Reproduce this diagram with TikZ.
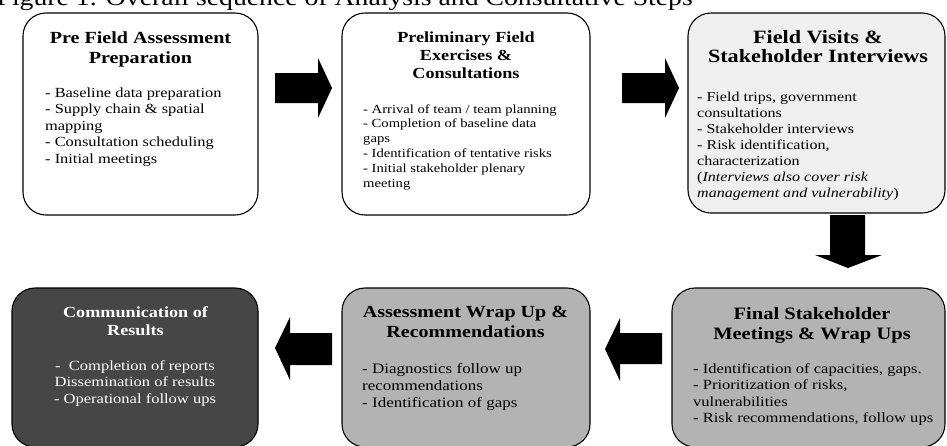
\documentclass[tikz,border=0pt]{standalone}
\usepackage{fontspec}
\setmainfont{Liberation Serif}[FakeStretch=1.18]
\newcommand{\fs}[2]{\fontsize{#1}{#2}\selectfont}
\definecolor{lightfill}{RGB}{239,239,239}
\definecolor{midfill}{RGB}{179,179,179}
\definecolor{darkfill}{RGB}{70,70,70}
\tikzset{
  stepbox/.style={draw=black, line width=1.1pt, rounded corners=23pt, anchor=north west, inner sep=0pt, outer sep=0pt},
  ttl/.style={align=center, inner sep=0pt, anchor=north},
  bdy/.style={align=left, inner sep=0pt, anchor=north west},
  blockarrow/.style={fill=black},
}
\begin{document}
\begin{tikzpicture}[x=1pt,y=-1pt]
\useasboundingbox (0,0) rectangle (947,445);
\clip (0,0) rectangle (947,445);
\fill[white] (0,0) rectangle (947,445);

% figure caption (cut at the top)
\node[anchor=base east, font=\fs{23.5}{28}, inner sep=0pt] (fig) at (693,5.5) {Figure 1. Overall sequence of Analysis and Consultative Steps};

% boxes
\node[stepbox, fill=white, minimum width=235pt, minimum height=202pt] (b1) at (23,13) {};
\node[stepbox, fill=white, minimum width=248pt, minimum height=202pt] (b2) at (342,13) {};
\node[stepbox, fill=lightfill, minimum width=257pt, minimum height=200pt] (b3) at (688,13) {};
\node[stepbox, fill=midfill, minimum width=273pt, minimum height=159pt] (b4) at (672,288) {};
\node[stepbox, fill=midfill, minimum width=248pt, minimum height=159pt] (b5) at (342,288) {};
\node[stepbox, fill=darkfill, minimum width=246pt, minimum height=159pt] (b6) at (12,288) {};

% box 1
\node[ttl, font=\fs{17}{20}\bfseries] (t1) at (140.5,29) {\strut Pre Field Assessment\\Preparation};
\node[bdy, font=\fs{13.9}{16.5}] (d1) at (45,85.5) {\strut - Baseline data preparation\\- Supply chain \& spatial\\mapping\\- Consultation scheduling\\- Initial meetings};

% box 2
\node[ttl, font=\fs{15.4}{18}\bfseries] (t2) at (466,29.4) {\strut Preliminary Field\\Exercises \&\\Consultations};
\node[bdy, font=\fs{12.4}{14.8}] (d2) at (363,102.6) {\strut - Arrival of team / team planning\\- Completion of baseline data\\gaps\\- Identification of tentative risks\\- Initial stakeholder plenary\\meeting};

% box 3
\node[ttl, font=\fs{18.8}{19.5}\bfseries] (t3) at (818,29.35) {\strut Field Visits \&\\Stakeholder Interviews};
\node[bdy, font=\fs{13.6}{16}] (d3) at (697,89.8) {\strut - Field trips, government\\consultations\\- Stakeholder interviews\\- Risk identification,\\characterization\\(\textit{Interviews also cover risk}\\\textit{management and vulnerability})};

% box 4
\node[ttl, font=\fs{17.4}{20}\bfseries] (t4) at (812,305) {\strut Final Stakeholder\\Meetings \& Wrap Ups};
\node[bdy, font=\fs{14}{16.5}] (d4) at (693,361.45) {\strut - Identification of capacities, gaps.\\- Prioritization of risks,\\vulnerabilities\\- Risk recommendations, follow ups};

% box 5
\node[ttl, font=\fs{17}{20}\bfseries] (t5) at (465.5,303) {\strut Assessment Wrap Up \&\\Recommendations};
\node[bdy, font=\fs{14.4}{17}] (d5) at (362,361.1) {\strut - Diagnostics follow up\\recommendations\\- Identification of gaps};

% box 6
\node[ttl, font=\fs{15.4}{18}\bfseries, text=white] (t6) at (135.5,304.4) {\strut Communication of\\Results};
\node[ttl, font=\fs{14}{16.5}, text=white] (d6) at (135,358.45) {\strut -\ \ Completion of reports\\Dissemination of results\\- Operational follow ups};

% block arrows
\fill[blockarrow] (275,73) -- (318,73) -- (318,58) -- (332,88) -- (318,118) -- (318,103) -- (275,103) -- cycle;
\fill[blockarrow] (622,73) -- (665,73) -- (665,58) -- (679,88) -- (665,118) -- (665,103) -- (622,103) -- cycle;
\fill[blockarrow] (830,215) -- (830,255) -- (815,255) -- (848,268) -- (882,255) -- (865,255) -- (865,215) -- cycle;
\fill[blockarrow] (662,333) -- (620,333) -- (620,318) -- (605,349) -- (620,381) -- (620,364) -- (662,364) -- cycle;
\fill[blockarrow] (332,333) -- (290,333) -- (290,317) -- (275,348) -- (290,380) -- (290,365) -- (332,365) -- cycle;
\end{tikzpicture}
\end{document}
